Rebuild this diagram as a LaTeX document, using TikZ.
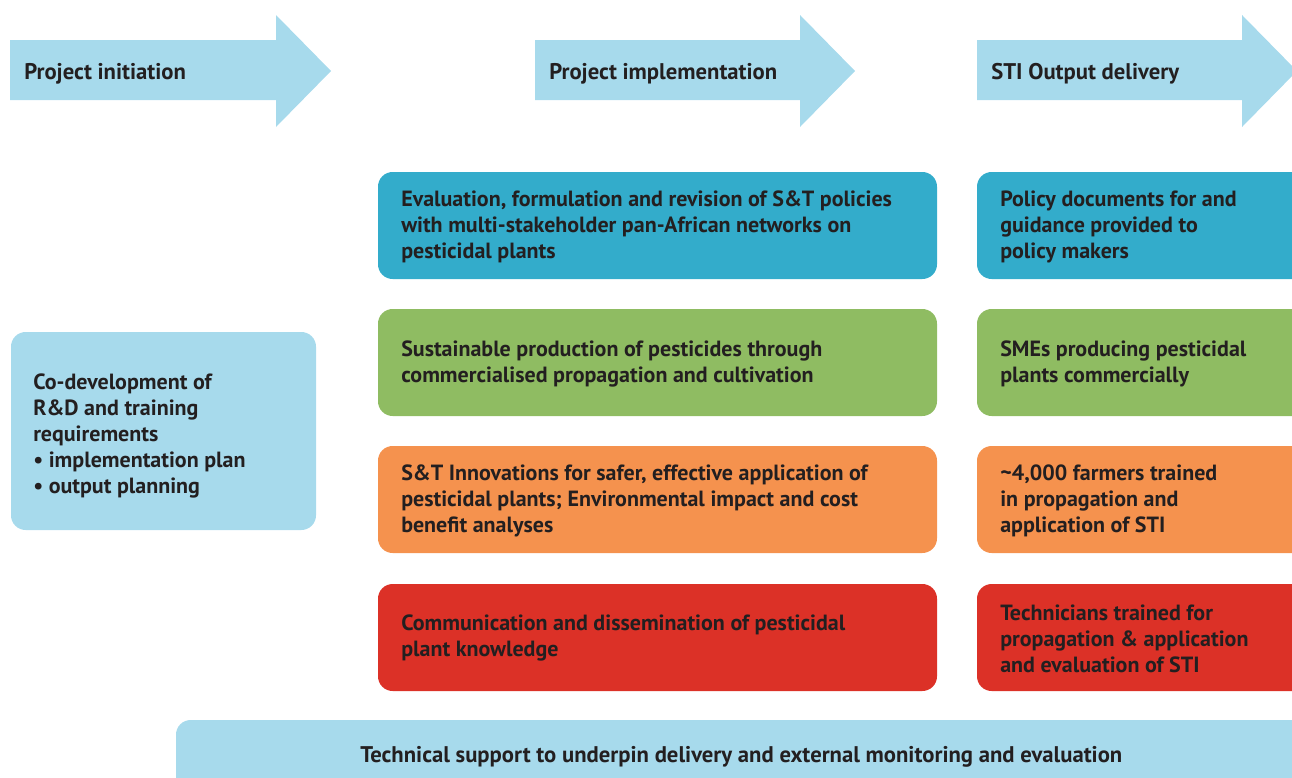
\documentclass[tikz,border=0pt]{standalone}
\usepackage{fontspec}
\setmainfont{PT Sans}
\definecolor{skyband}{RGB}{167,218,236}
\definecolor{policyteal}{RGB}{51,172,203}
\definecolor{prodgreen}{RGB}{143,188,98}
\definecolor{innovorange}{RGB}{245,146,78}
\definecolor{commred}{RGB}{220,49,39}
\definecolor{inkdark}{RGB}{35,31,32}

\begin{document}
\begin{tikzpicture}[x=0.75pt, y=-0.75pt,
  label/.style={anchor=west, inner sep=0pt, align=left, text=inkdark, font=\bfseries\fontsize{16.5}{19.5}\selectfont},
  head/.style={anchor=west, inner sep=0pt, text=inkdark, font=\bfseries\fontsize{17}{19}\selectfont}]
\useasboundingbox (0,0) rectangle (1292,778);
\clip (0,0) rectangle (1292,778);
% phase arrows
\fill[skyband] (10,40) -- (276,40) -- (276,15) -- (331,71) -- (276,127) -- (276,100) -- (10,100) -- cycle;
\fill[skyband] (535,40) -- (800,40) -- (800,15) -- (855,71) -- (800,127) -- (800,100) -- (535,100) -- cycle;
\fill[skyband] (977,40) -- (1242,40) -- (1242,15) -- (1297,71) -- (1242,127) -- (1242,100) -- (977,100) -- cycle;
\node[head] (initiation) at (24,74) {Project initiation};
\node[head] (implementation) at (549,74) {Project implementation};
\node[head] (delivery) at (991,74) {STI Output delivery};
% planning box
\fill[skyband, rounded corners=11pt] (11,332) rectangle (316,530);
\node[label] (codev) at (33,436) {Co-development of\\R\&D and training\\requirements\\• implementation plan\\• output planning};
% activity boxes
\fill[policyteal, rounded corners=11pt] (378,172) rectangle (937,279);
\fill[prodgreen, rounded corners=11pt] (378,309) rectangle (937,416);
\fill[innovorange, rounded corners=11pt] (378,446) rectangle (937,553);
\fill[commred, rounded corners=11pt] (378,584) rectangle (937,691);
\node[label] (policies) at (401,227) {Evaluation, formulation and revision of S\&T policies\\with multi-stakeholder pan-African networks on\\pesticidal plants};
\node[label] (production) at (401,364) {Sustainable production of pesticides through\\commercialised propagation and cultivation};
\node[label] (innovations) at (401,501) {S\&T Innovations for safer, effective application of\\pesticidal plants; Environmental impact and cost\\benefit analyses};
\node[label] (dissemination) at (401,638) {Communication and dissemination of pesticidal\\plant knowledge};
% output boxes
\fill[policyteal, rounded corners=11pt] (977,172) rectangle (1320,279);
\fill[prodgreen, rounded corners=11pt] (977,309) rectangle (1320,416);
\fill[innovorange, rounded corners=11pt] (977,446) rectangle (1320,553);
\fill[commred, rounded corners=11pt] (977,584) rectangle (1320,691);
\node[label] (guidance) at (1000,227) {Policy documents for and\\guidance provided to\\policy makers};
\node[label] (smes) at (1000,364) {SMEs producing pesticidal\\plants commercially};
\node[label] (farmers) at (1000,501) {\textasciitilde 4,000 farmers trained\\in propagation and\\application of STI};
\node[label] (technicians) at (1000,639) {Technicians trained for\\propagation \& application\\and evaluation of STI};
% support bar
\fill[skyband, rounded corners=11pt] (176,720) rectangle (1320,800);
\node[head] (support) at (360,757) {Technical support to underpin delivery and external monitoring and evaluation};
\end{tikzpicture}
\end{document}
